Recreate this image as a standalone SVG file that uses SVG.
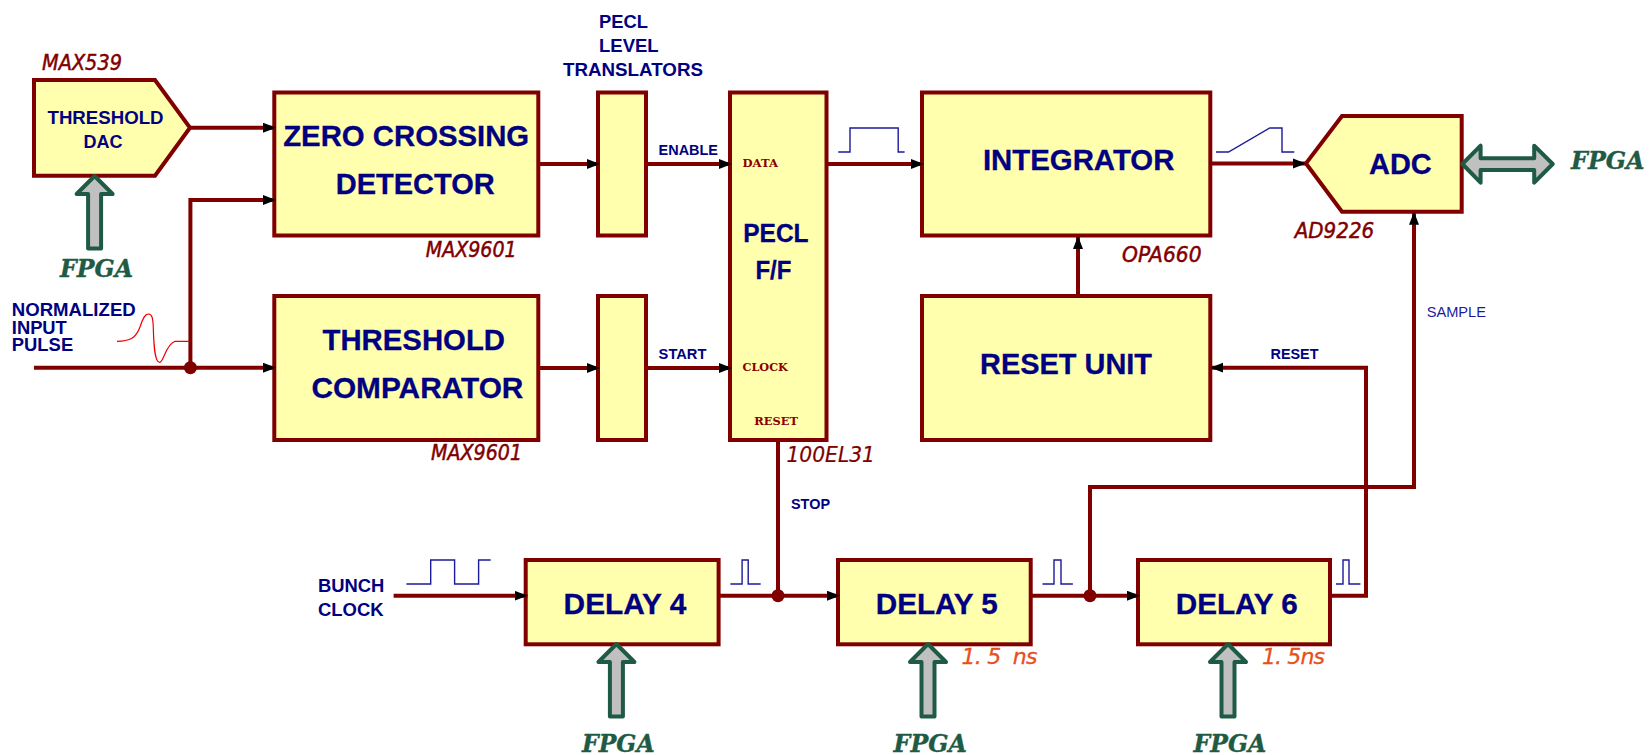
<svg xmlns="http://www.w3.org/2000/svg" width="1649" height="755" viewBox="0 0 1649 755">
<style>
text{font-family:"Liberation Sans",Arial,sans-serif;fill:#000080;font-weight:bold}
.b{fill:#ffffae;stroke:#800000;stroke-width:4;stroke-linejoin:miter}
.l30{font-size:30px;stroke:#000080;stroke-width:.3}
.l24{font-size:26px;stroke:#000080;stroke-width:.3}
.l19{font-size:19px}
.l17{font-size:17.500px}
.l15{font-size:15px}
.part{font-size:22px;font-weight:normal;font-style:italic;fill:#800000;stroke:#800000;stroke-width:.5;font-family:"DejaVu Sans","Liberation Sans",sans-serif}
.pin{font-family:"DejaVu Serif","Liberation Serif",serif;font-size:11.500px;fill:#8b0000}
.fp{font-family:"DejaVu Serif","Liberation Serif",serif;font-style:italic;font-size:25px;fill:#1f5a45;stroke:#1f5a45;stroke-width:.4}
.ns{font-size:22px;font-weight:normal;font-style:italic;fill:#e8501a;stroke:#e8501a;stroke-width:.3;font-family:"DejaVu Sans","Liberation Sans",sans-serif}
.c{fill:none;stroke:#800000;stroke-width:4}
.a{marker-end:url(#ah)}
.fa{fill:#c0c0c0;stroke:#1f5a45;stroke-width:4;stroke-linejoin:round}
.w{fill:none;stroke:#1a1a9a;stroke-width:1.400}
</style>
<defs>
<marker id="ah" markerUnits="userSpaceOnUse" markerWidth="14" markerHeight="11" refX="13" refY="5" orient="auto"><path d="M0 0L13 5L0 10Z" fill="#000"/></marker>
<path id="up" d="M0 0L18 18H6.500V72.500H-6.500V18H-18Z"/>
</defs>

<g id="dac"><path class="b" d="M34 80H155L190 127.700L155 175.700H34Z"/>
<text class="l19" x="47.500" y="124.300" textLength="116" lengthAdjust="spacingAndGlyphs">THRESHOLD</text>
<text class="l19" x="83.600" y="148" textLength="39" lengthAdjust="spacingAndGlyphs">DAC</text>
<text class="part" x="42" y="70" textLength="80" lengthAdjust="spacingAndGlyphs">MAX539</text></g>

<g id="zcd"><rect class="b" x="274.300" y="92.500" width="264" height="143"/>
<text class="l30" x="283.200" y="145.700" textLength="246" lengthAdjust="spacingAndGlyphs">ZERO CROSSING</text>
<text class="l30" x="335.700" y="193.500" textLength="159" lengthAdjust="spacingAndGlyphs">DETECTOR</text>
<text class="part" x="425.700" y="256.500" textLength="91" lengthAdjust="spacingAndGlyphs">MAX9601</text></g>

<g id="comparator"><rect class="b" x="274.300" y="296" width="264" height="144"/>
<text class="l30" x="322.500" y="349.500" textLength="182.500" lengthAdjust="spacingAndGlyphs">THRESHOLD</text>
<text class="l30" x="311.400" y="397.500" textLength="212" lengthAdjust="spacingAndGlyphs">COMPARATOR</text>
<text class="part" x="431" y="460" textLength="91" lengthAdjust="spacingAndGlyphs">MAX9601</text></g>

<g id="translator1"><rect class="b" x="598" y="92.500" width="48" height="143"/></g>
<g id="translator2"><rect class="b" x="598" y="296" width="48" height="144"/></g>
<g id="translators-label">
<text class="l19" x="599" y="28" textLength="49" lengthAdjust="spacingAndGlyphs">PECL</text>
<text class="l19" x="599" y="52" textLength="59.600" lengthAdjust="spacingAndGlyphs">LEVEL</text>
<text class="l19" x="563" y="76.300" textLength="140" lengthAdjust="spacingAndGlyphs">TRANSLATORS</text></g>

<g id="ff"><rect class="b" x="730" y="92.500" width="96.500" height="347.500"/>
<text class="l24" x="743.200" y="242.300" textLength="65.400" lengthAdjust="spacingAndGlyphs">PECL</text>
<text class="l24" x="755.400" y="278.700" textLength="36" lengthAdjust="spacingAndGlyphs">F/F</text>
<text class="pin" x="742.500" y="166.700" textLength="35.400" lengthAdjust="spacingAndGlyphs">DATA</text>
<text class="pin" x="742.500" y="370.700" textLength="45.400" lengthAdjust="spacingAndGlyphs">CLOCK</text>
<text class="pin" x="754.300" y="425" textLength="43.600" lengthAdjust="spacingAndGlyphs">RESET</text>
<text class="part" x="786.400" y="462" textLength="88.600" lengthAdjust="spacingAndGlyphs" style="stroke-width:.2">100EL31</text></g>

<g id="integrator"><rect class="b" x="922" y="92.500" width="288.300" height="143"/>
<text class="l30" x="982.900" y="169.500" textLength="191.500" lengthAdjust="spacingAndGlyphs">INTEGRATOR</text>
<text class="part" x="1122" y="261.700" textLength="79.500" lengthAdjust="spacingAndGlyphs">OPA660</text></g>

<g id="reset"><rect class="b" x="922" y="296" width="288.300" height="144"/>
<text class="l30" x="980" y="373.500" textLength="172" lengthAdjust="spacingAndGlyphs">RESET UNIT</text></g>

<g id="adc"><path class="b" d="M1306 163.400L1342 116H1461.700V211.700H1342Z"/>
<text class="l30" x="1369" y="174" textLength="62.700" lengthAdjust="spacingAndGlyphs">ADC</text>
<text class="part" x="1294.700" y="237.700" textLength="79.500" lengthAdjust="spacingAndGlyphs">AD9226</text></g>

<g id="delay4"><rect class="b" x="525.700" y="560" width="192.900" height="84.300"/>
<text class="l30" x="563.600" y="614" textLength="122.800" lengthAdjust="spacingAndGlyphs">DELAY 4</text></g>
<g id="delay5"><rect class="b" x="838" y="560" width="192.700" height="84.300"/>
<text class="l30" x="875.700" y="614" textLength="122.200" lengthAdjust="spacingAndGlyphs">DELAY 5</text>
<text class="ns" x="961.500" y="664" textLength="76" lengthAdjust="spacing" xml:space="preserve">1. 5  ns</text></g>
<g id="delay6"><rect class="b" x="1138" y="560" width="192" height="84.300"/>
<text class="l30" x="1175.700" y="614" textLength="122.200" lengthAdjust="spacingAndGlyphs">DELAY 6</text>
<text class="ns" x="1262" y="664" textLength="63" lengthAdjust="spacing">1. 5ns</text></g>

<g id="connectors">
<path class="c a" d="M190 127.700H276"/>
<path class="c a" d="M190.400 368V200H276"/>
<path class="c a" d="M34 367.700H276"/>
<path class="c a" d="M538.500 164H600"/>
<path class="c a" d="M538.500 368H600"/>
<path class="c a" d="M646 164H732"/>
<path class="c a" d="M646 368H732"/>
<path class="c a" d="M826.500 164H924"/>
<path class="c a" d="M1210.300 163.400H1306"/>
<path class="c a" d="M1078 296V236"/>
<path class="c" d="M778 440V596"/>
<path class="c a" d="M393.600 595.700H527.500"/>
<path class="c a" d="M718.600 595.700H840"/>
<path class="c a" d="M1030.700 595.700H1140"/>
<path class="c a" d="M1330 595.700H1366V367.700H1210.300"/>
<path class="c a" d="M1090 595.700V487H1414V211.700"/>
<circle cx="190.400" cy="367.700" r="6.500" fill="#800000"/>
<circle cx="778" cy="595.700" r="6.500" fill="#800000"/>
<circle cx="1090" cy="595.700" r="6.500" fill="#800000"/>
</g>

<g id="signal-labels">
<text class="l15" x="658.600" y="155.300" textLength="59.300" lengthAdjust="spacingAndGlyphs">ENABLE</text>
<text class="l15" x="658.600" y="359" textLength="47.800" lengthAdjust="spacingAndGlyphs">START</text>
<text class="l15" x="791" y="509" textLength="39" lengthAdjust="spacingAndGlyphs">STOP</text>
<text class="l15" x="1270.500" y="359" textLength="48" lengthAdjust="spacingAndGlyphs">RESET</text>
<text class="l15" style="font-weight:normal;fill:#1a1a9a" x="1426.700" y="317" textLength="59.300" lengthAdjust="spacingAndGlyphs">SAMPLE</text>
<text class="l17" x="11.800" y="315.700" textLength="123.900" lengthAdjust="spacingAndGlyphs">NORMALIZED</text>
<text class="l17" x="11.800" y="333.700" textLength="55" lengthAdjust="spacingAndGlyphs">INPUT</text>
<text class="l17" x="11.800" y="351.300" textLength="61.400" lengthAdjust="spacingAndGlyphs">PULSE</text>
<text class="l19" x="317.900" y="592" textLength="66.400" lengthAdjust="spacingAndGlyphs">BUNCH</text>
<text class="l19" x="317.900" y="616.300" textLength="65.700" lengthAdjust="spacingAndGlyphs">CLOCK</text>
</g>

<g id="waveforms">
<path d="M117 341.300C130 341.300 136 338 140 327C143 318 145 314 148.500 314C152 314 153 318 153.300 328C153.800 345 154.500 362.300 159.600 362.300C164 362.300 165 345 175 341.300H189.300" fill="none" stroke="#f00000" stroke-width="1.200"/>
<path class="w" d="M838.200 152H850V128H898.200V152H904.600"/>
<path class="w" d="M1216 152H1228.500L1269.800 128H1282V152H1294.300"/>
<path class="w" d="M406.400 584H430.700V560H454.600V584H478.600V560H490.700"/>
<path class="w" d="M730.400 584H742.100V560H748.200V584H760.700"/>
<path class="w" d="M1042.500 584H1054V560H1061V584H1072.900"/>
<path class="w" d="M1336 584H1343V560H1349V584H1360.400"/>
</g>

<g id="fpga-dac"><use class="fa" href="#up" x="94.600" y="176"/><text class="fp" x="60" y="277.300" textLength="73" lengthAdjust="spacingAndGlyphs">FPGA</text></g>
<g id="fpga-delay4"><use class="fa" href="#up" x="616.400" y="644"/><text class="fp" x="582" y="751.700" textLength="72.600" lengthAdjust="spacingAndGlyphs">FPGA</text></g>
<g id="fpga-delay5"><use class="fa" href="#up" x="928" y="644"/><text class="fp" x="893.600" y="751.700" textLength="73.200" lengthAdjust="spacingAndGlyphs">FPGA</text></g>
<g id="fpga-delay6"><use class="fa" href="#up" x="1228" y="644"/><text class="fp" x="1193.600" y="751.700" textLength="72.800" lengthAdjust="spacingAndGlyphs">FPGA</text></g>
<g id="fpga-adc"><path class="fa" d="M1462.400 164L1480.600 145.700V158.300H1534.200V145.700L1552.700 164L1534.200 182.700V170H1480.600V182.700Z"/><text class="fp" x="1571" y="169.300" textLength="73.500" lengthAdjust="spacingAndGlyphs">FPGA</text></g>
</svg>
